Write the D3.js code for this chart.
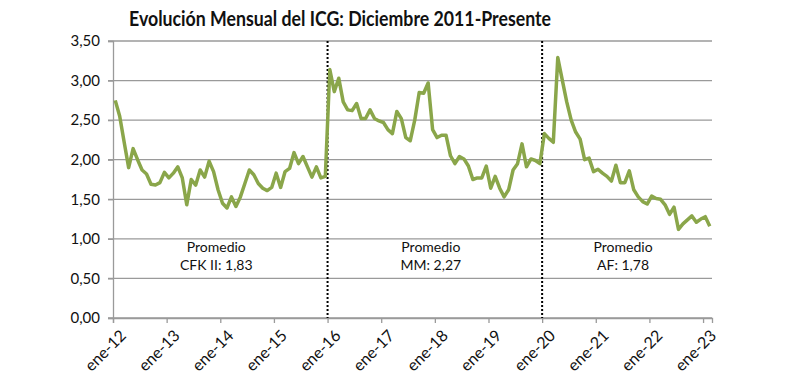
<!DOCTYPE html>
<html>
<head>
<meta charset="utf-8">
<script src="https://cdn.jsdelivr.net/npm/d3@7"></script>
<style>
  body { margin: 0; background: #fff; }
  text { font-family: Lato, "Open Sans", sans-serif; fill: #111; }
</style>
</head>
<body>
<svg id="chart" width="790" height="388"></svg>
<script>
// ICG monthly values, Dec 2011 -> Jan 2023 (one per month)
const icg = [
  2.75, 2.55, 2.22, 1.90, 2.14, 2.00, 1.87, 1.82, 1.69, 1.68, 1.71, 1.84,
  1.77, 1.83, 1.91, 1.77, 1.43, 1.75, 1.68, 1.87, 1.78, 1.98, 1.85, 1.62,
  1.45, 1.39, 1.53, 1.41, 1.53, 1.70, 1.87, 1.81, 1.70, 1.64, 1.61, 1.65,
  1.83, 1.65, 1.85, 1.89, 2.09, 1.95, 2.04, 1.91, 1.78, 1.91, 1.77, 1.79,
  3.14, 2.86, 3.03, 2.73, 2.63, 2.62, 2.71, 2.52, 2.52, 2.63, 2.52, 2.49,
  2.47, 2.38, 2.33, 2.61, 2.52, 2.28, 2.24, 2.50, 2.85, 2.84, 2.97, 2.38,
  2.28, 2.31, 2.31, 2.05, 1.95, 2.04, 2.01, 1.92, 1.75, 1.77, 1.77, 1.92,
  1.64, 1.79, 1.64, 1.53, 1.62, 1.87, 1.95, 2.20, 1.91, 2.01, 1.99, 1.95,
  2.33, 2.27, 2.22, 3.29, 3.01, 2.73, 2.50, 2.35, 2.26, 2.00, 2.02, 1.85,
  1.88, 1.83, 1.79, 1.73, 1.93, 1.71, 1.71, 1.86, 1.62, 1.53, 1.47, 1.44,
  1.54, 1.51, 1.50, 1.43, 1.31, 1.40, 1.12, 1.19, 1.24, 1.29, 1.21, 1.25,
  1.28, 1.16
];
const yTicks = [0, 0.5, 1, 1.5, 2, 2.5, 3, 3.5];
const xTickLabels = ["ene-12", "ene-13", "ene-14", "ene-15", "ene-16", "ene-17",
  "ene-18", "ene-19", "ene-20", "ene-21", "ene-22", "ene-23"];
const breaks = [48, 96]; // government changes (month boundaries)
const averages = [
  { from: 0, to: 48, label: "CFK II: 1,83" },
  { from: 48, to: 96, label: "MM: 2,27" },
  { from: 96, to: 134, label: "AF: 1,78" }
];

const svg = d3.select("#chart");
const plotLeft = 113, plotRight = 712, plotTop = 41, plotBottom = 318;
const comma = d3.formatLocale({ decimal: ",", thousands: ".", grouping: [3], currency: ["$", ""] });

const x = d3.scaleLinear().domain([0, icg.length]).range([plotLeft, plotRight]);
const y = d3.scaleLinear().domain([0, 3.5]).range([plotBottom, plotTop]);

svg.append("text")
  .attr("x", 340).attr("y", 26)
  .attr("text-anchor", "middle")
  .attr("font-size", 21).attr("font-weight", "bold")
  .attr("textLength", 422).attr("lengthAdjust", "spacingAndGlyphs")
  .text("Evolución Mensual del ICG: Diciembre 2011-Presente");

// gridlines
svg.append("g")
  .selectAll("line")
  .data(yTicks)
  .enter()
  .append("line")
  .attr("x1", plotLeft - 5).attr("x2", plotRight)
  .attr("y1", (d) => y(d)).attr("y2", (d) => y(d))
  .style("stroke", "#9a9a9a")
  .style("stroke-width", 1.3);

// y axis
const yAxis = svg.append("g")
  .attr("transform", `translate(${plotLeft},0)`)
  .call(d3.axisLeft(y).tickValues(yTicks).tickSize(5).tickPadding(8)
    .tickFormat((d) => comma.format(".2f")(d)));
yAxis.select(".domain").style("stroke", "#9a9a9a").style("stroke-width", 1.3);
yAxis.selectAll("line").style("stroke", "#9a9a9a").style("stroke-width", 1.3);
yAxis.selectAll("text").attr("font-size", 15).style("font-family", "Lato, sans-serif").style("fill", "#111");

// x axis
const xAxis = svg.append("g")
  .attr("transform", `translate(0,${plotBottom})`)
  .call(d3.axisBottom(x)
    .tickValues(xTickLabels.map((d, i) => i * 12))
    .tickSize(5)
    .tickFormat((d) => xTickLabels[d / 12]));
xAxis.select(".domain").style("stroke", "#9a9a9a").style("stroke-width", 1.3);
xAxis.selectAll("line").style("stroke", "#9a9a9a").style("stroke-width", 1.3);
xAxis.selectAll("text")
  .attr("font-size", 16)
  .style("font-family", "Lato, sans-serif")
  .style("fill", "#111")
  .attr("text-anchor", "end")
  .attr("dy", null)
  .attr("transform", "translate(8,13) rotate(-45)");

// period separators
svg.append("g")
  .selectAll("line")
  .data(breaks)
  .enter()
  .append("line")
  .attr("x1", (d) => x(d)).attr("x2", (d) => x(d))
  .attr("y1", plotTop).attr("y2", plotBottom)
  .style("stroke", "#000")
  .style("stroke-width", 2)
  .style("stroke-dasharray", "2,2");

// average labels
const avg = svg.append("g")
  .selectAll("text")
  .data(averages)
  .enter()
  .append("text")
  .attr("text-anchor", "middle")
  .attr("font-size", 14);
avg.append("tspan")
  .attr("x", (d) => x((d.from + d.to) / 2) - 4)
  .attr("y", 252)
  .text("Promedio");
avg.append("tspan")
  .attr("x", (d) => x((d.from + d.to) / 2) - 4)
  .attr("y", 270)
  .text((d) => d.label);

// series
const line = d3.line()
  .x((d, i) => x(i + 0.5))
  .y((d) => y(d));

svg.append("path")
  .datum(icg)
  .attr("d", line)
  .style("fill", "none")
  .style("stroke", "#8aa64a")
  .style("stroke-width", 3.5)
  .style("stroke-linejoin", "round");
</script>
</body>
</html>
